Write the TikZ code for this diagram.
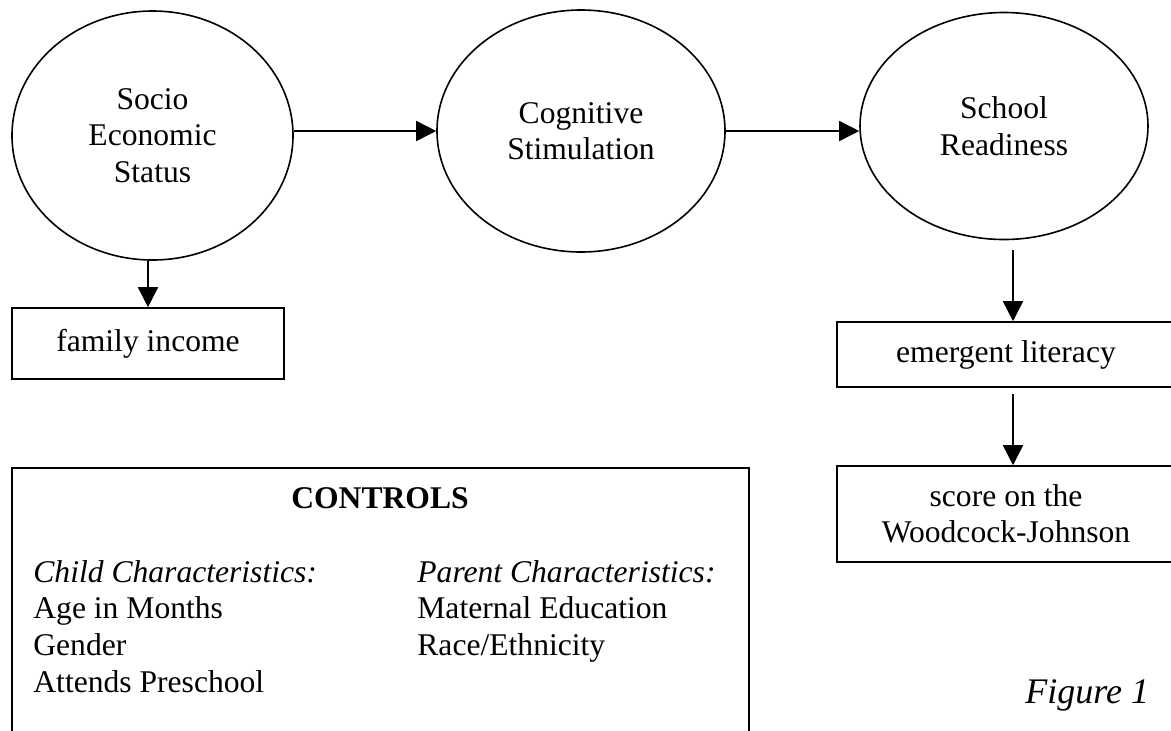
\documentclass[tikz,border=0pt]{standalone}
\usepackage{fontspec}
\setmainfont{Liberation Serif}
\usepackage{tikz}
\usetikzlibrary{shapes.geometric,arrows.meta,positioning}

\newcommand{\diagfont}{\fontsize{15.8}{18.3}\selectfont}

\begin{document}
\begin{tikzpicture}[x=0.5pt,y=-0.5pt,
    latent/.style={draw,line width=0.8pt,ellipse,align=center,inner sep=0pt,font=\diagfont},
    measure/.style={draw,line width=0.8pt,rectangle,align=center,inner sep=0pt,font=\diagfont},
    item/.style={anchor=base west,inner sep=0pt,font=\diagfont},
    link/.style={-{Triangle[length=10pt,width=10pt]},line width=0.8pt}]
    \useasboundingbox (0,0) rectangle (1171,730);

    % constructs
    \node[latent,minimum width=140.5pt,minimum height=124.5pt] (ses) at (152.5,135.5) {Socio\\Economic\\Status};
    \node[latent,minimum width=144pt,minimum height=121pt] (cog) at (581,131) {Cognitive\\Stimulation};
    \node[latent,minimum width=144pt,minimum height=113.5pt] (school) at (1004,126) {School\\Readiness};

    \draw[link] (ses.east |- cog.west) -- (cog.west);
    \draw[link] (cog.east) -- (school.west |- cog.east);

    % indicators
    \node[measure,minimum width=136pt,minimum height=35.5pt] (income) at (148,343.5) {family income};
    \node[measure,minimum width=169pt,minimum height=32.5pt] (literacy) at (1006,354.5) {emergent literacy};
    \node[measure,minimum width=169pt,minimum height=48pt] (wj) at (1006,514) {score on the\\[-0.4pt]Woodcock-Johnson};

    \draw[link] (income.north |- ses.south) -- (income.north);
    \coordinate (s1) at (1013,250);
    \coordinate (e1) at (1013,394);
    \draw[link] (s1) -- (s1 |- literacy.north);
    \draw[link] (e1) -- (e1 |- wj.north);

    % controls box
    \node[measure,minimum width=368.5pt,minimum height=146pt] (controls) at (380.5,614) {};
    \node[font=\diagfont\bfseries,inner sep=0pt] (ctitle) at (380,498) {CONTROLS};

    \node[item,font=\diagfont\itshape] (childhead) at (33,582) {Child Characteristics:};
    \foreach \txt [count=\i] in {Age in Months,Gender,Attends Preschool}
        \node[item] (child\i) at (33,582+36.7*\i) {\txt};

    \node[item,font=\diagfont\itshape] (parenthead) at (417,582) {Parent Characteristics:};
    \foreach \txt [count=\i] in {Maternal Education,Race/Ethnicity}
        \node[item] (parent\i) at (417,582+36.7*\i) {\txt};

    \node[item,font=\fontsize{18}{22}\selectfont\itshape] (figlabel) at (1025,703) {Figure 1};
\end{tikzpicture}
\end{document}
